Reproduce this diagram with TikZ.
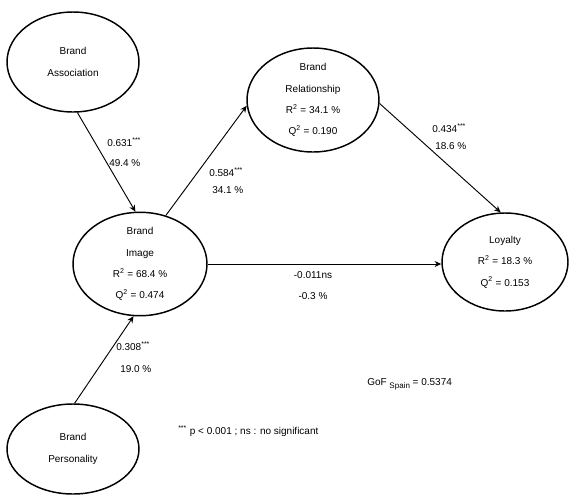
\documentclass[tikz,border=0pt]{standalone}
\usepackage{fontspec}
\setmainfont{Liberation Sans}
\usetikzlibrary{arrows.meta,shapes.geometric}
\begin{document}
\begin{tikzpicture}[x=0.75pt,y=-0.75pt,
  construct/.style={draw,ellipse,line width=1.1pt,inner sep=0pt,align=center,
    font=\fontsize{7.5}{16}\selectfont},
  conn/.style={line width=0.7pt,-{Stealth[length=5pt,width=4.5pt]}},
  lbl/.style={inner sep=0pt,font=\fontsize{7.5}{9}\selectfont}]
\useasboundingbox (0,0) rectangle (569,494);
\node[construct,minimum width=99pt,minimum height=75pt] (BA) at (73,62) {Brand\\Association};
\node[construct,minimum width=99pt,minimum height=78pt] (BR) at (313,100) {Brand\\Relationship\\R\textsuperscript{2} = 34.1 \%\\Q\textsuperscript{2} = 0.190};
\node[construct,minimum width=100.5pt,minimum height=76.5pt] (BI) at (140,264) {Brand\\Image\\R\textsuperscript{2} = 68.4 \%\\Q\textsuperscript{2} = 0.474};
\node[construct,minimum width=94.5pt,minimum height=73.5pt] (LO) at (505,262) {Loyalty\\R\textsuperscript{2} = 18.3 \%\\Q\textsuperscript{2} = 0.153};
\node[construct,minimum width=99pt,minimum height=67.5pt] (BP) at (73,449) {Brand\\Personality};

\draw[conn] (BA.275) -- (BI.95);
\draw[conn] (BI.62) -- (BR.185);
\draw[conn] (BR.357) -- (LO.95);
\draw[conn] (BI.east) -- (BI.east -| LO.west);
\draw[conn] (BP.88) -- (BI.263);

\node[lbl,anchor=west] (l1a) at (107,142) {0.631\textsuperscript{***}};
\node[lbl,anchor=west] (l1b) at (109,163) {49.4 \%};
\node[lbl,anchor=west] (l2a) at (209,172) {0.584\textsuperscript{***}};
\node[lbl,anchor=west] (l2b) at (212,190) {34.1 \%};
\node[lbl,anchor=west] (l3a) at (432,128) {0.434\textsuperscript{***}};
\node[lbl,anchor=west] (l3b) at (435,146) {18.6 \%};
\node[lbl] (l4a) at (313,275) {-0.011ns};
\node[lbl] (l4b) at (313,296) {-0.3 \%};
\node[lbl,anchor=west] (l5a) at (116,346) {0.308\textsuperscript{***}};
\node[lbl,anchor=west] (l5b) at (120,369) {19.0 \%};
\node[lbl,anchor=west] (gof) at (367,384) {GoF \raisebox{-2.5pt}{\fontsize{6}{6}\selectfont Spain} = 0.5374};
\node[lbl,anchor=west] (note) at (178,431) {\textsuperscript{***} p {\textless} 0.001 ; ns : no significant};
\end{tikzpicture}
\end{document}
